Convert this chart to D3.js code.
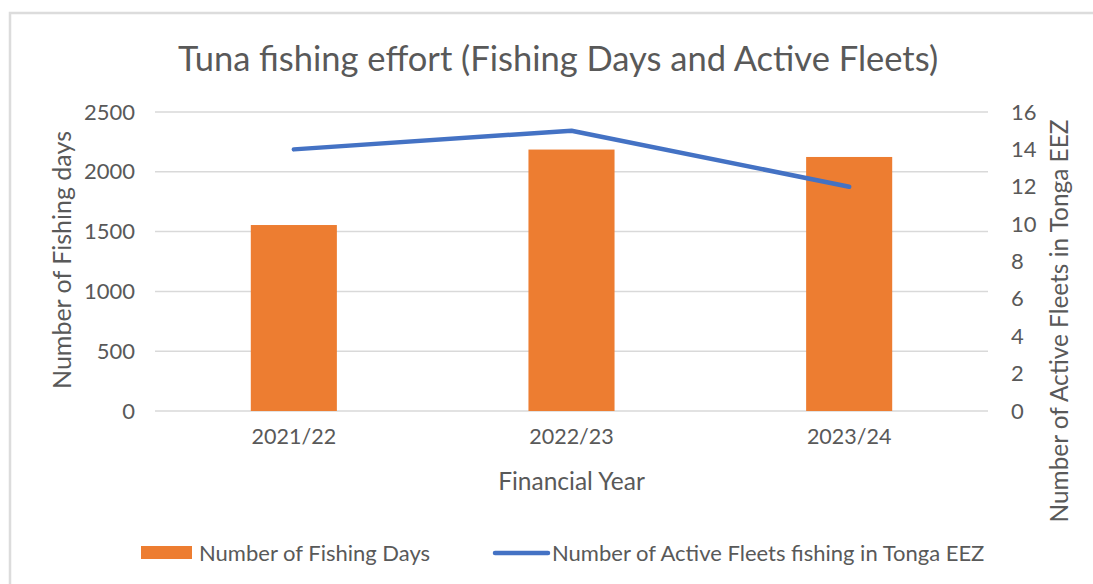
<!DOCTYPE html>
<html>
<head>
<meta charset="utf-8">
<script src="https://cdn.jsdelivr.net/npm/d3@7"></script>
<style>
  html, body { margin: 0; padding: 0; background: #ffffff; }
  svg { display: block; }
  text { font-family: Lato, "Open Sans", sans-serif; fill: #595959; }
</style>
</head>
<body>
<svg id="chart" width="1093" height="584"></svg>
<script>
// ---- Data ----
const categories = ["2021/22", "2022/23", "2023/24"];
const fishingDays = [1555, 2186, 2124];
const activeFleets = [14, 15, 12];
const leftTicks = [0, 500, 1000, 1500, 2000, 2500];
const rightTicks = [0, 2, 4, 6, 8, 10, 12, 14, 16];
const titleText = "Tuna fishing effort (Fishing Days and Active Fleets)";
const xTitle = "Financial Year";
const yLeftTitle = "Number of Fishing days";
const yRightTitle = "Number of Active Fleets in Tonga EEZ";
const legendBar = "Number of Fishing Days";
const legendLine = "Number of Active Fleets fishing in Tonga EEZ";

// ---- Layout ----
const W = 1093, H = 584;
const plot = { left: 155, right: 988, top: 112, bottom: 411 };
const barColor = "#ED7D31";
const lineColor = "#4472C4";
const gridColor = "#D9D9D9";
const fontFam = "Lato, 'Open Sans', sans-serif";

const svg = d3.select("#chart");

// outer chart border
svg.append("rect")
  .attr("x", 10).attr("y", 13)
  .attr("width", W + 20).attr("height", H + 20)
  .attr("fill", "#ffffff")
  .attr("stroke", "#DCDCDC")
  .attr("stroke-width", 2.5);

const x = d3.scaleBand()
  .domain(categories)
  .range([plot.left, plot.right])
  .paddingInner(0.69)
  .paddingOuter(0.345);

const yL = d3.scaleLinear().domain([0, 2500]).range([plot.bottom, plot.top]);
const yR = d3.scaleLinear().domain([0, 16]).range([plot.bottom, plot.top]);

// gridlines
svg.append("g")
  .selectAll("line")
  .data(leftTicks)
  .join("line")
  .attr("x1", plot.left).attr("x2", plot.right)
  .attr("y1", d => yL(d)).attr("y2", d => yL(d))
  .attr("stroke", gridColor)
  .attr("stroke-width", 1.5);

// left axis (labels only)
const axL = d3.axisLeft(yL).tickValues(leftTicks).tickFormat(d3.format("d")).tickSize(0).tickPadding(20);
const gL = svg.append("g").attr("transform", `translate(${plot.left},0)`).call(axL);
gL.select(".domain").remove();
gL.selectAll("text").style("font-size", "22px").attr("fill", "#595959")
  .style("font-family", fontFam);

// right axis (labels only)
const axR = d3.axisRight(yR).tickValues(rightTicks).tickFormat(d3.format("d")).tickSize(0).tickPadding(23);
const gR = svg.append("g").attr("transform", `translate(${plot.right},0)`).call(axR);
gR.select(".domain").remove();
gR.selectAll("text").style("font-size", "22px").attr("fill", "#595959")
  .style("font-family", fontFam);

// bars
svg.append("g")
  .selectAll("rect")
  .data(categories.map((c, i) => ({ c, v: fishingDays[i] })))
  .join("rect")
  .attr("x", d => x(d.c))
  .attr("width", x.bandwidth())
  .attr("y", d => yL(d.v))
  .attr("height", d => yL(0) - yL(d.v))
  .attr("fill", barColor);

// x axis labels
const axX = d3.axisBottom(x).tickSize(0).tickPadding(18);
const gX = svg.append("g").attr("transform", `translate(0,${plot.bottom})`).call(axX);
gX.select(".domain").remove();
gX.selectAll("text").style("font-size", "21.5px").attr("fill", "#595959")
  .style("font-family", fontFam);

// line
const lineData = categories.map((c, i) => ({ c, v: activeFleets[i] }));
svg.append("path")
  .datum(lineData)
  .attr("fill", "none")
  .attr("stroke", lineColor)
  .attr("stroke-width", 4.5)
  .attr("stroke-linecap", "round")
  .attr("stroke-linejoin", "round")
  .attr("d", d3.line().x(d => x(d.c) + x.bandwidth() / 2).y(d => yR(d.v)));

// title
svg.append("text")
  .attr("x", 558).attr("y", 71)
  .attr("text-anchor", "middle")
  .style("font-size", "34.5px")
  .text(titleText);

// x axis title
svg.append("text")
  .attr("x", (plot.left + plot.right) / 2).attr("y", 490)
  .attr("text-anchor", "middle")
  .style("font-size", "24.5px")
  .text(xTitle);

// left axis title
svg.append("text")
  .attr("transform", `translate(71,260) rotate(-90)`)
  .attr("text-anchor", "middle")
  .style("font-size", "25px")
  .text(yLeftTitle);

// right axis title
svg.append("text")
  .attr("transform", `translate(1068,321) rotate(-90)`)
  .attr("text-anchor", "middle")
  .style("font-size", "24.4px")
  .text(yRightTitle);

// legend
const lg = svg.append("g");
lg.append("rect")
  .attr("x", 141).attr("y", 546)
  .attr("width", 51).attr("height", 13)
  .attr("fill", barColor);
lg.append("text")
  .attr("x", 199).attr("y", 561)
  .style("font-size", "22px")
  .text(legendBar);
lg.append("line")
  .attr("x1", 495).attr("x2", 548)
  .attr("y1", 553).attr("y2", 553)
  .attr("stroke", lineColor)
  .attr("stroke-width", 4.5)
  .attr("stroke-linecap", "round");
lg.append("text")
  .attr("x", 552).attr("y", 561)
  .style("font-size", "22px")
  .text(legendLine);
</script>
</body>
</html>
